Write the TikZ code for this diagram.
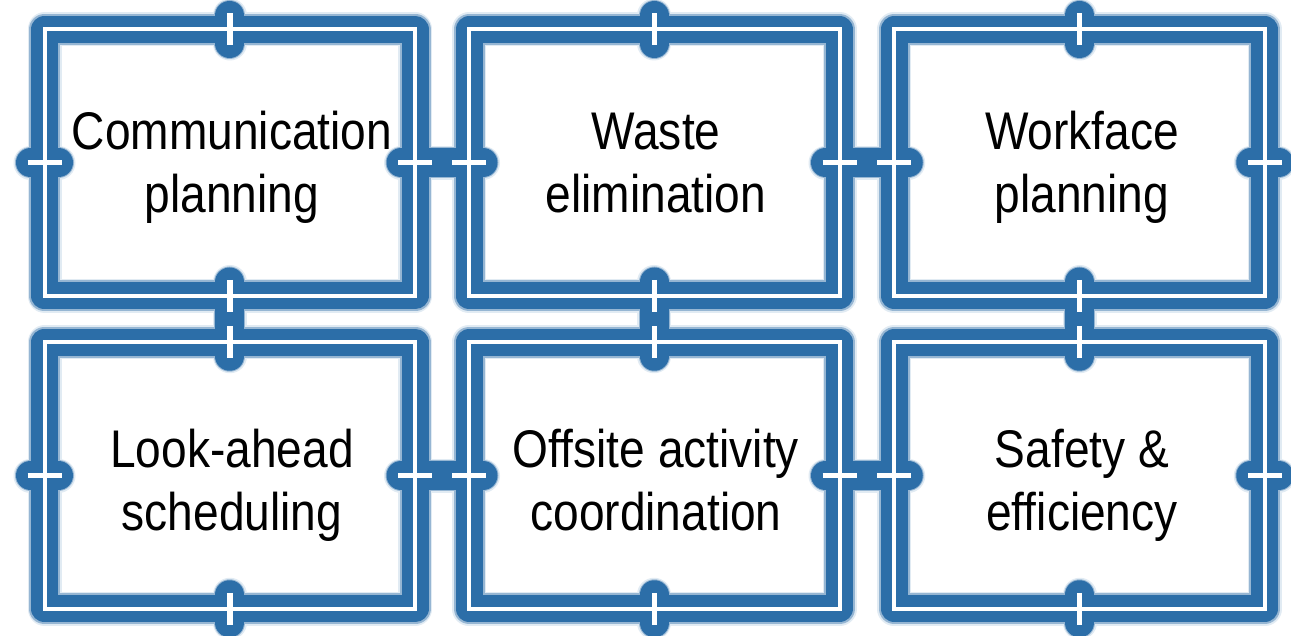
\documentclass[tikz,border=0pt]{standalone}
\usepackage{fontspec}
\setmainfont{Liberation Sans}[FakeStretch=0.87]
\usetikzlibrary{calc}
\definecolor{frame}{RGB}{44,110,168}
\begin{document}
\begin{tikzpicture}[x=1pt,y=-1pt,
  boxn/.style={minimum width=370.5pt, minimum height=266.5pt, inner sep=0pt, outer sep=0pt, draw=none},
  glowa/.style={line width=34pt, draw=frame!14, line join=round, line cap=round},
  glowb/.style={line width=31pt, draw=frame!50, line join=round, line cap=round},
  frameline/.style={line width=27pt, draw=frame, line join=round},
  nubline/.style={line width=29pt, draw=frame, line cap=round},
  whiteline/.style={line width=4pt, draw=white},
  tickline/.style={line width=5.5pt, draw=white},
  txt/.style={font=\fontsize{53}{63}\selectfont, inner sep=0pt}
]
\useasboundingbox[fill=white] (0,0) rectangle (1291,636);

% boxes (centers)
\node[boxn] (b1) at (229.75,162.75) {};
\node[boxn] (b2) at (654.25,162.75) {};
\node[boxn] (b3) at (1079.5,162.75) {};
\node[boxn] (b4) at (229.75,475.5) {};
\node[boxn] (b5) at (654.25,475.5) {};
\node[boxn] (b6) at (1079.5,475.5) {};

% glow layers and frames
\foreach \s in {glowa,glowb,frameline}{
  \foreach \b in {b1,b2,b3,b4,b5,b6}{
    \draw[\s] (\b.north west) rectangle (\b.south east);
  }
  \foreach \b in {b1,b4}{\draw[\s] ($(\b.west)+(-14,0)$) -- ($(\b.west)+(14,0)$);}
  \foreach \b in {b3,b6}{\draw[\s] ($(\b.east)+(-14,0)$) -- ($(\b.east)+(14,0)$);}
  \foreach \b in {b1,b2,b3}{\draw[\s] ($(\b.north)+(0,-14)$) -- ($(\b.north)+(0,14)$);}
  \foreach \b in {b4,b5,b6}{\draw[\s] ($(\b.south)+(0,-14)$) -- ($(\b.south)+(0,14)$);}
  \draw[\s] ($(b1.east)+(-14,0)$) -- ($(b2.west)+(14,0)$);
  \draw[\s] ($(b2.east)+(-14,0)$) -- ($(b3.west)+(14,0)$);
  \draw[\s] ($(b4.east)+(-14,0)$) -- ($(b5.west)+(14,0)$);
  \draw[\s] ($(b5.east)+(-14,0)$) -- ($(b6.west)+(14,0)$);
  \draw[\s] ($(b1.south)+(0,-14)$) -- ($(b4.north)+(0,14)$);
  \draw[\s] ($(b2.south)+(0,-14)$) -- ($(b5.north)+(0,14)$);
  \draw[\s] ($(b3.south)+(0,-14)$) -- ($(b6.north)+(0,14)$);
}
% nubs and links in solid colour
\foreach \b in {b1,b4}{\draw[nubline] ($(\b.west)+(-14,0)$) -- ($(\b.west)+(14,0)$);}
\foreach \b in {b3,b6}{\draw[nubline] ($(\b.east)+(-14,0)$) -- ($(\b.east)+(14,0)$);}
\foreach \b in {b1,b2,b3}{\draw[nubline] ($(\b.north)+(0,-14)$) -- ($(\b.north)+(0,14)$);}
\foreach \b in {b4,b5,b6}{\draw[nubline] ($(\b.south)+(0,-14)$) -- ($(\b.south)+(0,14)$);}
\draw[nubline] ($(b1.east)+(-14,0)$) -- ($(b2.west)+(14,0)$);
\draw[nubline] ($(b2.east)+(-14,0)$) -- ($(b3.west)+(14,0)$);
\draw[nubline] ($(b4.east)+(-14,0)$) -- ($(b5.west)+(14,0)$);
\draw[nubline] ($(b5.east)+(-14,0)$) -- ($(b6.west)+(14,0)$);
\draw[nubline] ($(b1.south)+(0,-14)$) -- ($(b4.north)+(0,14)$);
\draw[nubline] ($(b2.south)+(0,-14)$) -- ($(b5.north)+(0,14)$);
\draw[nubline] ($(b3.south)+(0,-14)$) -- ($(b6.north)+(0,14)$);

% white inner lines and ticks
\foreach \b in {b1,b2,b3,b4,b5,b6}{
  \draw[whiteline] (\b.north west) rectangle (\b.south east);
  \draw[tickline] ($(\b.west)+(-17,0)$) -- ($(\b.west)+(17,0)$);
  \draw[tickline] ($(\b.east)+(-17,0)$) -- ($(\b.east)+(17,0)$);
  \draw[tickline] ($(\b.north)+(0,-16)$) -- ($(\b.north)+(0,16)$);
  \draw[tickline] ($(\b.south)+(0,-16)$) -- ($(\b.south)+(0,16)$);
}

% labels
\node[txt] (t1) at (232,168.4) {\begin{tabular}{@{}c@{}}Communication\\planning\end{tabular}};
\node[txt] (t2) at (656,168.4) {\begin{tabular}{@{}c@{}}Waste\\elimination\end{tabular}};
\node[txt] (t3) at (1082,168.4) {\begin{tabular}{@{}c@{}}Workface\\planning\end{tabular}};
\node[txt] (t4) at (232,485.9) {\begin{tabular}{@{}c@{}}Look-ahead\\scheduling\end{tabular}};
\node[txt] (t5) at (656,485.9) {\begin{tabular}{@{}c@{}}Offsite activity\\coordination\end{tabular}};
\node[txt] (t6) at (1082,485.9) {\begin{tabular}{@{}c@{}}Safety \&\\efficiency\end{tabular}};
\end{tikzpicture}
\end{document}
